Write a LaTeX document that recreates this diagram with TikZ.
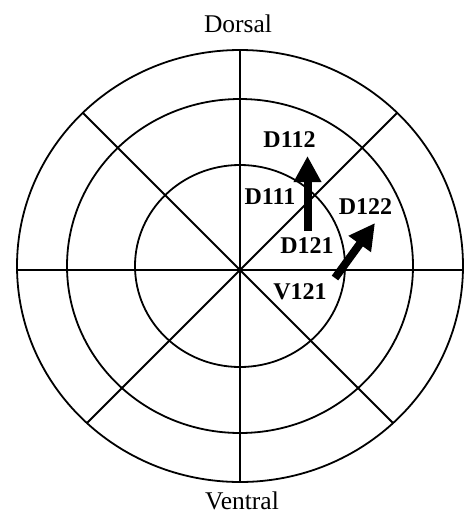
\documentclass[tikz,border=0pt]{standalone}
\usepackage{fontspec}
\setmainfont{Liberation Serif}
\usetikzlibrary{arrows.meta}
\begin{document}
\begin{tikzpicture}[x=1pt,y=-1pt,
  ring/.style={line width=1.8pt},
  spoke/.style={line width=1.8pt},
  lab/.style={inner sep=0pt, anchor=base, font=\fontsize{24}{24}\selectfont\bfseries},
  pole/.style={inner sep=0pt, anchor=base, font=\fontsize{25.5}{26}\selectfont},
  bigarrow/.style={line width=8pt, -{Triangle[length=26pt,width=26pt]}}]
\useasboundingbox[fill=white] (0,0) rectangle (464,515);
\coordinate (O) at (240,266);
% rings
\draw[ring] (O) ellipse [x radius=223, y radius=216];
\draw[ring] (O) ellipse [x radius=173, y radius=167];
\draw[ring] (O) ellipse [x radius=105, y radius=101];
% spokes
\coordinate (N) at (240,49);
\coordinate (S) at (240,481);
\coordinate (W) at (17,270);
\coordinate (E) at (463,270);
\coordinate (NW) at (82.7,112.7);
\coordinate (SE) at (393.1,423.1);
\coordinate (NE) at (397.3,112.7);
\coordinate (SW) at (86.9,423.1);
\draw[spoke] (N) -- (S);
\draw[spoke] (W) -- (E);
\draw[spoke] (NW) -- (SE);
\draw[spoke] (NE) -- (SW);
% poles
\node[pole] (dorsal) at (238,32) {Dorsal};
\node[pole] (ventral) at (242,509) {Ventral};
% labels
\node[lab] (d112) at (289.5,147) {D112};
\node[lab] (d111) at (270,204) {D111};
\node[lab] (d121) at (307,253) {D121};
\node[lab] (d122) at (365.5,214) {D122};
\node[lab] (v121) at (300,299) {V121};
% arrows
\coordinate (a1s) at (307.5,231);
\coordinate (a1e) at (307.5,156);
\coordinate (a2s) at (335,278);
\coordinate (a2e) at (375,223);
\draw[bigarrow] (a1s) -- (a1e);
\draw[bigarrow] (a2s) -- (a2e);
\end{tikzpicture}
\end{document}
